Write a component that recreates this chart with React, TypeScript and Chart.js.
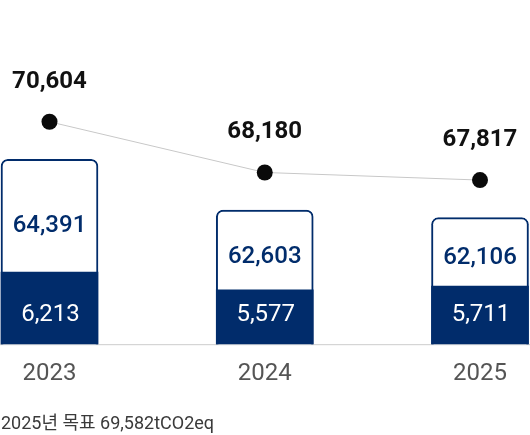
import React, { useEffect, useRef } from "react";
import { Chart, registerables } from "chart.js";

Chart.register(...registerables);

const categories = ["2023", "2024", "2025"];
const upperValues = [64391, 62603, 62106];
const lowerValues = [6213, 5577, 5711];
const totalValues = [70604, 68180, 67817];
const footnote = "2025년 목표 69,582tCO2eq";

const NAVY = "#012c6b";
const FONT = "Roboto, 'Noto Sans CJK KR', sans-serif";

const fmt = (v: number) => v.toLocaleString("en-US");

const labelPlugin = {
  id: "customLabels",
  beforeDatasetsDraw(chart: any) {
    const { ctx, chartArea } = chart;
    ctx.save();
    ctx.strokeStyle = "#cccccc";
    ctx.lineWidth = 1;
    ctx.beginPath();
    ctx.moveTo(0, chartArea.bottom + 0.5);
    ctx.lineTo(chart.width, chartArea.bottom + 0.5);
    ctx.stroke();
    ctx.restore();
  },
  afterDatasetsDraw(chart: any) {
    const { ctx, chartArea } = chart;
    const lineMeta = chart.getDatasetMeta(0);
    const lowerMeta = chart.getDatasetMeta(1);
    const upperMeta = chart.getDatasetMeta(2);
    ctx.save();
    ctx.textAlign = "center";
    ctx.textBaseline = "middle";
    lineMeta.data.forEach((pt: any, i: number) => {
      ctx.fillStyle = "#111111";
      ctx.font = `bold 24px ${FONT}`;
      ctx.fillText(fmt(totalValues[i]), pt.x, pt.y - 40);
    });
    upperMeta.data.forEach((bar: any, i: number) => {
      const top = bar.y;
      const lowTop = lowerMeta.data[i].y;
      ctx.fillStyle = NAVY;
      ctx.font = `500 24px ${FONT}`;
      ctx.fillText(fmt(upperValues[i]), bar.x, top + 0.59 * (lowTop - top));
    });
    lowerMeta.data.forEach((bar: any, i: number) => {
      ctx.fillStyle = "#ffffff";
      ctx.font = `400 24px ${FONT}`;
      ctx.fillText(fmt(lowerValues[i]), bar.x + 1, chartArea.bottom - 29);
    });
    ctx.restore();
  },
};

const barClip = { left: 60, right: 60, top: 200, bottom: 0 };

export default function App() {
  const ref = useRef<HTMLCanvasElement | null>(null);

  useEffect(() => {
    if (!ref.current) return;
    const chart = new Chart(ref.current, {
      type: "bar",
      data: {
        labels: categories,
        datasets: [
          {
            type: "line",
            label: "total",
            data: totalValues,
            yAxisID: "yLine",
            borderColor: "#c8c8c8",
            borderWidth: 1,
            pointRadius: 8,
            pointBackgroundColor: "#0a0a0a",
            pointBorderWidth: 0,
            pointHoverRadius: 8,
            tension: 0,
            clip: false,
            order: 0,
          } as any,
          {
            type: "bar",
            label: "lower",
            data: lowerValues,
            yAxisID: "yLow",
            backgroundColor: NAVY,
            borderWidth: 0,
            barThickness: 97,
            grouped: false,
            clip: barClip,
            order: 1,
          } as any,
          {
            type: "bar",
            label: "upper",
            data: totalValues,
            yAxisID: "yBar",
            backgroundColor: "#ffffff",
            borderColor: NAVY,
            borderWidth: 2,
            borderRadius: { topLeft: 7, topRight: 7, bottomLeft: 0, bottomRight: 0 },
            borderSkipped: "bottom",
            barThickness: 97,
            grouped: false,
            clip: barClip,
            order: 2,
          } as any,
        ],
      },
      options: {
        responsive: false,
        animation: false,
        layout: { padding: { left: 49.5, right: 50, top: 100, bottom: 32 } },
        plugins: {
          legend: { display: false },
          tooltip: { enabled: false },
          title: { display: false },
        },
        scales: {
          x: {
            offset: false,
            grid: { display: false, drawTicks: false },
            border: { display: false },
            ticks: {
              color: "#555555",
              font: { family: FONT, size: 24 },
              padding: 15,
            },
          },
          yLine: { display: false, min: 59970, max: 71645 },
          yBar: { display: false, min: 61767, max: 73442 },
          yLow: { display: false, min: 3630, max: 12376 },
        },
      } as any,
      plugins: [labelPlugin],
    });
    return () => chart.destroy();
  }, []);

  return (
    <div style={{ position: "absolute", left: 0, top: 0, width: 530, height: 435 }}>
      <canvas ref={ref} width={530} height={435} style={{ display: "block" }} />
      <div
        style={{
          position: "absolute",
          left: 1,
          top: 412,
          fontFamily: FONT,
          fontSize: 18,
          lineHeight: "21px",
          color: "#3a3a3a",
          whiteSpace: "nowrap",
        }}
      >
        {footnote}
      </div>
    </div>
  );
}
